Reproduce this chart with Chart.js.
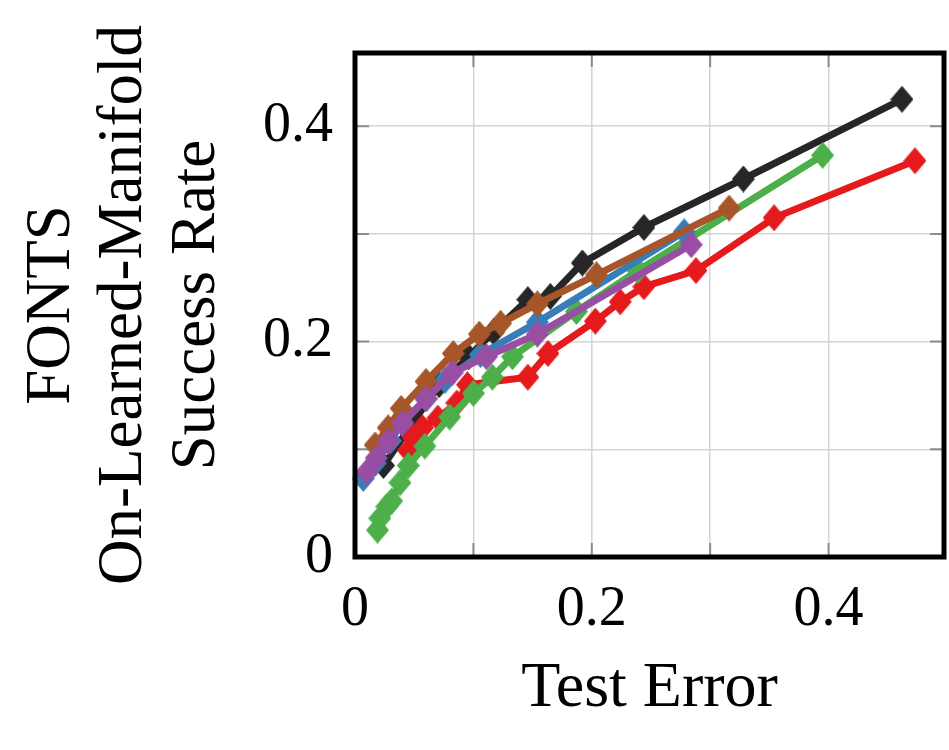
<!DOCTYPE html>
<html>
<head>
<meta charset="utf-8">
<script src="https://cdn.jsdelivr.net/npm/chart.js@4.4.1/dist/chart.umd.min.js"></script>
<style>
  html, body { margin: 0; padding: 0; background: #ffffff; overflow: hidden; }
  #wrap { width: 949px; height: 750px; position: relative; }
  #c { display: block; }
</style>
</head>
<body>
<div id="wrap"><canvas id="c" width="949" height="750"></canvas></div>
<script>
// ---- data ----
const xTicks = [0, 0.1, 0.2, 0.3, 0.4];
const yTicks = [0, 0.1, 0.2, 0.3, 0.4];
const xTickLabels = ['0', '', '0.2', '', '0.4'];
const yTickLabels = ['0', '', '0.2', '', '0.4'];
const xTitle = 'Test Error';
const yTitle = ['FONTS', 'On-Learned-Manifold', 'Success Rate'];

const blackX = [0.024, 0.071, 0.096, 0.117, 0.146, 0.165, 0.192, 0.244, 0.328, 0.462];
const blackY = [0.085, 0.160, 0.186, 0.209, 0.239, 0.242, 0.273, 0.306, 0.351, 0.425];

const redX = [0.045, 0.049, 0.057, 0.070, 0.086, 0.095, 0.146, 0.163, 0.203, 0.224, 0.244, 0.288, 0.354, 0.473];
const redY = [0.099, 0.111, 0.120, 0.129, 0.143, 0.160, 0.167, 0.189, 0.219, 0.237, 0.251, 0.266, 0.315, 0.368];

const greenX = [0.019, 0.021, 0.027, 0.031, 0.038, 0.045, 0.059, 0.080, 0.100, 0.116, 0.133, 0.187, 0.239, 0.395];
const greenY = [0.025, 0.036, 0.047, 0.052, 0.069, 0.085, 0.103, 0.130, 0.152, 0.167, 0.186, 0.228, 0.266, 0.373];

const brownX = [0.017, 0.028, 0.039, 0.060, 0.083, 0.105, 0.123, 0.154, 0.204, 0.316];
const brownY = [0.104, 0.120, 0.138, 0.163, 0.189, 0.207, 0.217, 0.235, 0.262, 0.324];

const blueX = [0.007, 0.017, 0.030, 0.040, 0.060, 0.076, 0.106, 0.154, 0.278];
const blueY = [0.073, 0.087, 0.108, 0.125, 0.147, 0.164, 0.188, 0.218, 0.302];

const purpleX = [0.010, 0.018, 0.028, 0.040, 0.060, 0.082, 0.111, 0.154, 0.284];
const purpleY = [0.079, 0.092, 0.107, 0.124, 0.147, 0.171, 0.186, 0.207, 0.290];

const xMin = 0, xMax = 0.4975;
const yMin = 0, yMax = 0.468;

// ---- build chart ----
function pts(xs, ys) { return xs.map((x, i) => ({ x: x, y: ys[i] })); }

const seriesDefs = [
  { label: 'purple', xs: purpleX, ys: purpleY, color: '#984ea3', order: 1 },
  { label: 'brown',  xs: brownX,  ys: brownY,  color: '#a65628', order: 2 },
  { label: 'blue',   xs: blueX,   ys: blueY,   color: '#377eb8', order: 3 },
  { label: 'green',  xs: greenX,  ys: greenY,  color: '#4daf4a', order: 4 },
  { label: 'red',    xs: redX,    ys: redY,    color: '#e41a1c', order: 5 },
  { label: 'black',  xs: blackX,  ys: blackY,  color: '#262626', order: 6 }
];

// tall diamond marker (pgfplots style)
function diamondMarker(color) {
  const w = 23, h = 27;
  const c = document.createElement('canvas');
  c.width = w; c.height = h;
  const g = c.getContext('2d');
  g.fillStyle = color;
  g.beginPath();
  g.moveTo(w / 2, 0); g.lineTo(w, h / 2); g.lineTo(w / 2, h); g.lineTo(0, h / 2);
  g.closePath();
  g.fill();
  return c;
}

const datasets = seriesDefs.map(s => ({
  label: s.label,
  data: pts(s.xs, s.ys),
  borderColor: s.color,
  backgroundColor: s.color,
  borderWidth: 7,
  pointStyle: diamondMarker(s.color),
  pointRadius: 12,
  pointBorderWidth: 0,
  pointBackgroundColor: s.color,
  tension: 0,
  order: s.order,
  clip: false
}));

const FONT = '"Liberation Serif", "DejaVu Serif", serif';
const PLOT_LEFT = 355, PLOT_TOP = 53, PLOT_RIGHT = 944, PLOT_BOTTOM = 557;

const framePlugin = {
  id: 'frame',
  beforeDatasetsDraw(chart) {
    const ctx = chart.ctx;
    const xs = chart.scales.x, ys = chart.scales.y;
    const a = chart.chartArea;
    const L = 14;
    ctx.save();
    ctx.strokeStyle = '#8c8c8c';
    ctx.lineWidth = 2;
    ctx.beginPath();
    xTicks.forEach(v => {
      const px = xs.getPixelForValue(v);
      ctx.moveTo(px, a.bottom); ctx.lineTo(px, a.bottom - L);
      ctx.moveTo(px, a.top); ctx.lineTo(px, a.top + L);
    });
    yTicks.forEach(v => {
      const py = ys.getPixelForValue(v);
      ctx.moveTo(a.left, py); ctx.lineTo(a.left + L, py);
      ctx.moveTo(a.right, py); ctx.lineTo(a.right - L, py);
    });
    ctx.stroke();
    ctx.restore();
  },
  afterDatasetsDraw(chart) {
    const ctx = chart.ctx;
    const a = chart.chartArea;
    ctx.save();
    ctx.strokeStyle = '#000000';
    ctx.lineWidth = 5;
    ctx.strokeRect(a.left, a.top, a.right - a.left, a.bottom - a.top);
    ctx.restore();
  }
};

new Chart(document.getElementById('c'), {
  type: 'line',
  data: { datasets: datasets },
  options: {
    responsive: false,
    animation: false,
    devicePixelRatio: 1,
    layout: { autoPadding: false, padding: { left: 0, top: PLOT_TOP, right: 949 - PLOT_RIGHT, bottom: 0 } },
    plugins: { legend: { display: false }, tooltip: { enabled: false } },
    scales: {
      x: {
        type: 'linear',
        min: xMin, max: xMax,
        afterFit(scale) { scale.height = 750 - PLOT_BOTTOM; scale.paddingLeft = 0; scale.paddingRight = 0; },
        afterBuildTicks(scale) { scale.ticks = xTicks.map(v => ({ value: v })); },
        grid: { color: '#d4d4d4', lineWidth: 1.5, drawTicks: false },
        border: { display: false },
        ticks: {
          autoSkip: false,
          maxRotation: 0,
          padding: 20,
          color: '#000',
          font: { family: FONT, size: 56 },
          callback(v) { const i = xTicks.findIndex(t => Math.abs(t - v) < 1e-9); return i >= 0 ? xTickLabels[i] : ''; }
        },
        title: {
          display: true,
          text: xTitle,
          color: '#000',
          font: { family: FONT, size: 64, lineHeight: 1.2 },
          padding: { top: 0, bottom: 22 }
        }
      },
      y: {
        type: 'linear',
        min: yMin, max: yMax,
        afterFit(scale) { scale.width = PLOT_LEFT; scale.paddingTop = 0; scale.paddingBottom = 0; },
        afterBuildTicks(scale) { scale.ticks = yTicks.map(v => ({ value: v })); },
        grid: { color: '#d4d4d4', lineWidth: 1.5, drawTicks: false },
        border: { display: false },
        ticks: {
          autoSkip: false,
          padding: 22,
          color: '#000',
          font: { family: FONT, size: 56 },
          callback(v) { const i = yTicks.findIndex(t => Math.abs(t - v) < 1e-9); return i >= 0 ? yTickLabels[i] : ''; }
        },
        title: {
          display: true,
          text: yTitle,
          color: '#000',
          font: { family: FONT, size: 63, lineHeight: 1.15 },
          padding: { top: 16, bottom: 0 }
        }
      }
    }
  },
  plugins: [framePlugin]
});
</script>
</body>
</html>
